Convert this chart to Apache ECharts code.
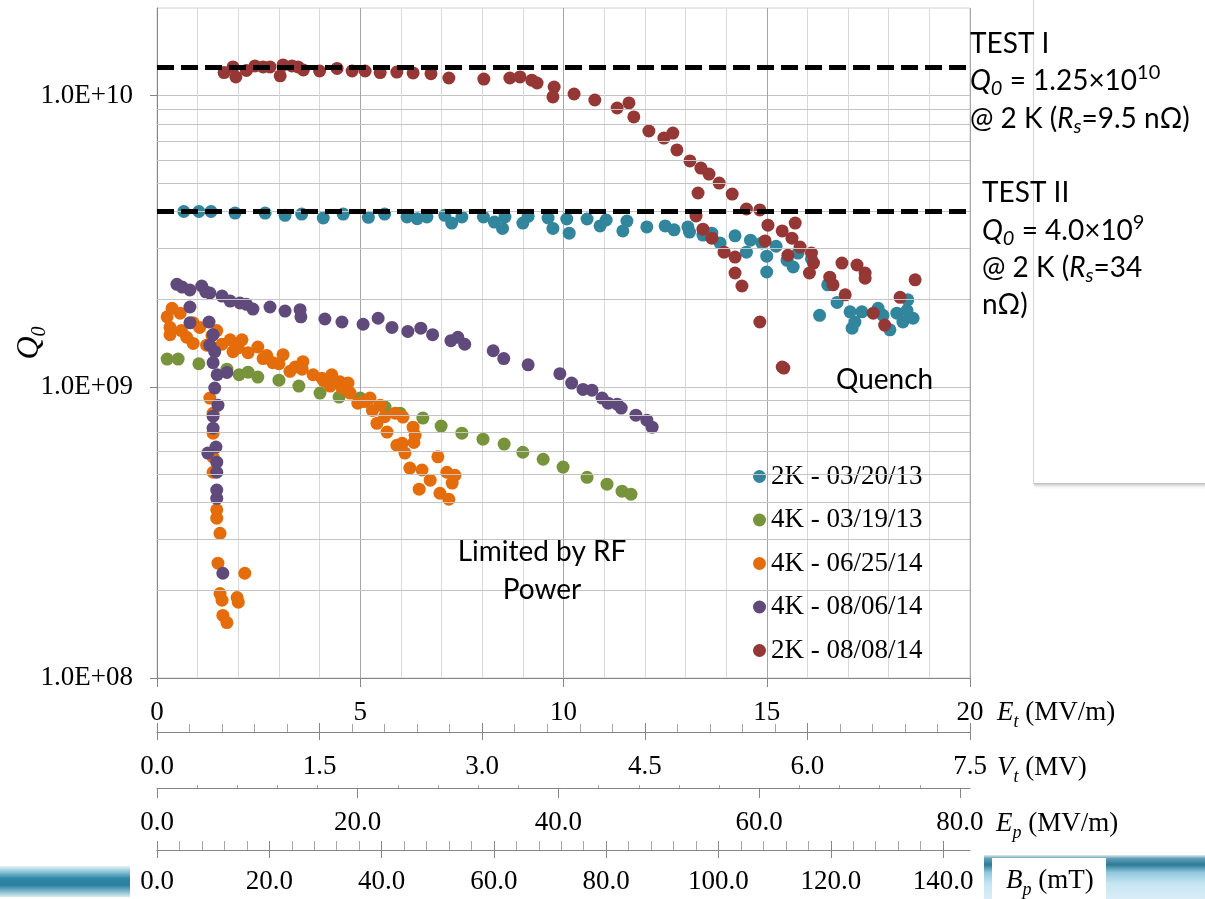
<!DOCTYPE html>
<html>
<head>
<meta charset="utf-8">
<script src="https://cdn.jsdelivr.net/npm/echarts@6/dist/echarts.min.js"></script>
<style>
  html, body { margin: 0; padding: 0; background: #fff; }
  #chart { width: 1205px; height: 899px; }
</style>
</head>
<body>
<div id="chart"></div>
<script>
// series names (legend order)
var seriesNames = ['2K - 03/20/13', '4K - 03/19/13', '4K - 06/25/14', '4K - 08/06/14', '2K - 08/08/14'];

// [Et (MV/m), Q0]
var data2K_032013 = [
  [0.66,4.0e9],[1.03,4.0e9],[1.33,4.0e9],[1.92,3.95e9],[2.66,3.95e9],[3.15,3.88e9],[3.56,3.92e9],[4.09,3.8e9],
  [4.58,3.92e9],[5.2,3.82e9],[5.6,3.92e9],[6.15,3.83e9],[6.4,3.78e9],[6.64,3.83e9],[7.08,3.88e9],[7.25,3.65e9],
  [7.5,3.83e9],[8.03,3.83e9],[8.3,3.68e9],[8.5,3.5e9],[8.56,3.83e9],[9.0,3.65e9],[9.13,3.85e9],[9.62,3.8e9],
  [9.74,3.5e9],[10.08,3.77e9],[10.14,3.37e9],[10.58,3.77e9],[10.9,3.57e9],[11.05,3.74e9],[11.46,3.43e9],[11.56,3.71e9],
  [12.05,3.54e9],[12.5,3.57e9],[12.72,3.46e9],[13.06,3.54e9],[13.1,3.4e9],[13.43,3.32e9],[13.65,3.37e9],[13.85,3.12e9],
  [14.22,3.3e9],[14.5,2.9e9],[14.6,3.19e9],[14.88,3.12e9],[15.0,2.81e9],[15.0,2.48e9],[15.23,3.04e9],[15.5,2.72e9],
  [15.65,2.58e9],[15.77,2.88e9],[16.1,2.75e9],[16.3,1.76e9],[16.5,2.24e9],[16.73,1.95e9],[17.05,1.81e9],[17.1,1.59e9],
  [17.17,1.67e9],[17.34,1.81e9],[17.74,1.86e9],[17.86,1.76e9],[18.03,1.57e9],[18.2,1.79e9],[18.35,1.67e9],[18.47,1.99e9],
  [18.45,1.83e9],[18.6,1.72e9]
];
var data4K_031913 = [
  [0.25,1.245e9],[0.52,1.245e9],[1.03,1.2e9],[1.72,1.15e9],[2.02,1.1e9],[2.24,1.123e9],[2.48,1.08e9],[3.0,1.054e9],
  [3.49,1.006e9],[4.01,9.52e8],[4.48,9.22e8],[5.0,9.15e8],[5.61,8.52e8],[5.98,8.12e8],[6.54,7.81e8],[6.99,7.33e8],
  [7.5,6.93e8],[8.02,6.61e8],[8.54,6.36e8],[9.0,5.96e8],[9.5,5.64e8],[9.99,5.3e8],[10.58,4.89e8],[11.07,4.63e8],
  [11.44,4.38e8],[11.66,4.28e8]
];
var data4K_062514 = [
  [0.25,1.74e9],[0.37,1.86e9],[0.57,1.79e9],[0.32,1.6e9],[0.32,1.51e9],[0.6,1.56e9],[0.73,1.48e9],[0.89,1.66e9],
  [1.05,1.6e9],[0.89,1.41e9],[1.22,1.39e9],[1.35,1.5e9],[1.47,1.56e9],[1.6,1.4e9],[1.8,1.45e9],[2.09,1.45e9],
  [1.87,1.32e9],[2.0,1.36e9],[2.24,1.31e9],[2.48,1.37e9],[2.61,1.25e9],[2.7,1.28e9],[3.1,1.29e9],[2.85,1.21e9],
  [3.0,1.2e9],[3.27,1.13e9],[3.4,1.17e9],[3.59,1.22e9],[3.57,1.15e9],[3.84,1.1e9],[4.06,1.07e9],[4.1,1.05e9],
  [4.3,1.1e9],[4.26,1.006e9],[4.5,1.04e9],[4.55,9.9e8],[4.7,1.03e9],[4.75,9.52e8],[4.94,8.79e8],[5.1,8.9e8],
  [5.24,9.15e8],[5.3,8.3e8],[5.49,8.65e8],[5.41,7.49e8],[5.6,7.9e8],[5.66,6.99e8],[5.86,8.12e8],[5.9,6.3e8],
  [6.05,7.87e8],[6.03,6.4e8],[6.1,5.92e8],[6.3,7.27e8],[6.35,6.82e8],[6.32,6.44e8],[6.22,5.26e8],[6.52,5.18e8],
  [6.45,4.45e8],[6.72,4.78e8],[6.91,5.75e8],[7.13,5.09e8],[7.33,4.97e8],[7.26,4.67e8],[6.96,4.31e8],[7.18,4.11e8],
  [1.3,9.15e8],[1.38,8.12e8],[1.38,6.93e8],[1.38,5.73e8],[1.38,5.09e8],[1.47,3.78e8],[1.47,3.54e8],[1.55,3.14e8],
  [1.5,2.48e8],[1.55,1.95e8],[1.6,1.85e8],[1.62,1.64e8],[1.72,1.55e8],[1.97,1.89e8],[2.0,1.82e8],[2.16,2.29e8]
];
var data4K_080614 = [
  [0.49,2.25e9],[0.62,2.2e9],[0.81,2.15e9],[0.81,1.88e9],[0.81,1.66e9],[1.1,2.22e9],[1.2,2.12e9],[1.3,2.1e9],
  [1.28,1.67e9],[1.6,2.05e9],[1.8,1.97e9],[2.04,1.94e9],[2.2,1.92e9],[2.36,1.85e9],[2.78,1.88e9],[3.15,1.82e9],
  [3.52,1.84e9],[3.54,1.74e9],[4.13,1.71e9],[4.55,1.67e9],[5.07,1.64e9],[5.44,1.72e9],[5.78,1.6e9],[6.17,1.55e9],
  [6.49,1.59e9],[6.78,1.51e9],[7.23,1.44e9],[7.4,1.48e9],[7.57,1.4e9],[8.27,1.33e9],[8.53,1.25e9],[9.13,1.19e9],
  [9.91,1.11e9],[10.2,1.03e9],[10.48,9.8e8],[10.7,9.74e8],[10.95,9.15e8],[11.1,8.79e8],[11.32,8.72e8],[11.42,8.45e8],
  [11.78,7.99e8],[12.05,7.68e8],[12.18,7.27e8],
  [1.38,1.51e9],[1.3,1.39e9],[1.42,1.32e9],[1.38,1.21e9],[1.48,1.1e9],[1.72,1.12e9],[1.42,9.9e8],[1.5,8.65e8],
  [1.38,7.93e8],[1.38,7.21e8],[1.45,6.21e8],[1.25,5.92e8],[1.47,5.51e8],[1.47,5.09e8],[1.47,4.42e8],[1.47,4.14e8],
  [1.62,2.29e8]
];
var data2K_080814 = [
  [1.65,1.2e10],[1.87,1.255e10],[1.94,1.16e10],[2.2,1.22e10],[2.41,1.265e10],[2.61,1.255e10],[2.78,1.255e10],[3.03,1.17e10],
  [3.1,1.275e10],[3.32,1.265e10],[3.47,1.255e10],[3.6,1.225e10],[4.0,1.215e10],[4.43,1.24e10],[4.8,1.215e10],[5.12,1.215e10],
  [5.49,1.2e10],[5.9,1.205e10],[6.3,1.197e10],[6.74,1.19e10],[7.18,1.15e10],[8.04,1.14e10],[8.68,1.15e10],[8.93,1.16e10],
  [9.22,1.13e10],[9.35,1.105e10],[9.77,1.07e10],[9.74,9.9e9],[10.26,1.013e10],[10.77,9.66e9],[11.32,9.07e9],[11.61,9.44e9],
  [11.73,8.45e9],[12.1,7.56e9],[12.47,7.15e9],[12.69,7.44e9],[12.79,6.51e9],[13.11,5.97e9],[13.38,5.64e9],[13.58,5.38e9],
  [13.31,4.63e9],[13.83,5.01e9],[14.15,4.59e9],[13.26,3.86e9],[13.43,3.48e9],[13.65,3.24e9],[13.95,2.9e9],[14.22,2.79e9],
  [14.22,2.46e9],[14.39,2.22e9],[14.5,4.08e9],[14.83,4.05e9],[15.03,3.59e9],[14.96,3.17e9],[15.38,3.43e9],[15.62,3.24e9],
  [15.52,2.83e9],[15.7,3.65e9],[15.82,3.02e9],[14.83,1.67e9],[15.42,1.16e9],[15.38,1.17e9],[16.1,2.88e9],[16.15,2.66e9],
  [16.05,2.46e9],[16.55,2.38e9],[16.63,2.24e9],[16.85,2.66e9],[16.93,2.07e9],[17.22,2.62e9],[17.42,2.46e9],[17.42,2.36e9],
  [17.62,1.79e9],[17.9,1.63e9],[18.28,2.03e9],[18.65,2.33e9]
];

// reference lines (TEST I, TEST II)
var testLevels = [1.25e10, 4.0e9];

// tick values
var yDecades = [1e8, 1e9, 1e10];
var yMinorGrid = [2e8,3e8,4e8,5e8,6e8,7e8,8e8,9e8,2e9,3e9,4e9,5e9,6e9,7e9,8e9,9e9];
var epMajor = [0, 20, 40, 60, 80];
var epMinor = [4,8,12,16,24,28,32,36,44,48,52,56,64,68,72,76];
var bpMajor = [0, 20, 40, 60, 80, 100, 120, 140];
var bpMinor = [4,8,12,16,24,28,32,36,44,48,52,56,64,68,72,76,84,88,92,96,104,108,112,116,124,128,132,136];

var colors = ['#31859C', '#77933C', '#E46C0A', '#604A7B', '#953735'];
var allData = [data2K_032013, data4K_031913, data4K_062514, data4K_080614, data2K_080814];

var serif = '"Liberation Serif", "Times New Roman", serif';
var sans = 'Lato, "Open Sans", sans-serif';
var axisGray = '#868686';

var chart = echarts.init(document.getElementById('chart'));

var labelFont = { fontFamily: serif, fontSize: 27, color: '#000' };

function ruler(opt) {
    return Object.assign({
        type: 'value',
        gridIndex: 0,
        position: 'bottom',
        axisLine: { show: false, onZero: false, lineStyle: { color: axisGray, width: 1 } },
        axisTick: { show: false },
        axisLabel: { show: false },
        splitLine: { show: false },
        minorTick: { show: false },
        minorSplitLine: { show: false }
    }, opt);
}

var xAxes = [
    // E_t : main plot axis
    {
        type: 'value', min: 0, max: 20, interval: 5, position: 'bottom',
        axisLine: { show: true, onZero: false, lineStyle: { color: axisGray } },
        axisTick: { show: true, inside: false, length: 9, lineStyle: { color: axisGray } },
        axisLabel: Object.assign({ margin: 21 }, labelFont),
        splitLine: { show: true, lineStyle: { color: '#a6a6a6', width: 1 } },
        minorTick: { show: false, splitNumber: 5 },
        minorSplitLine: { show: true, lineStyle: { color: '#d9d9d9', width: 1 } }
    },
    // V_t
    ruler({
        min: 0, max: 7.5, interval: 1.5, offset: 54,
        axisLine: { show: true, onZero: false, lineStyle: { color: axisGray } },
        axisTick: { show: true, inside: true, length: 9, lineStyle: { color: axisGray } },
        minorTick: { show: true, splitNumber: 5, length: 8, lineStyle: { color: '#a6a6a6' } },
        axisLabel: Object.assign({ show: true, margin: 21, formatter: function (v) { return v.toFixed(1); } }, labelFont)
    }),
    ruler({
        min: 0, max: 7.5, interval: 1.5, offset: 54,
        axisTick: { show: true, inside: false, length: 8, lineStyle: { color: axisGray } }
    }),
    // E_p
    ruler({
        min: 0, max: 81, offset: 110,
        axisLine: { show: true, onZero: false, lineStyle: { color: axisGray } },
        axisTick: { show: true, inside: false, length: 10, customValues: epMajor, lineStyle: { color: axisGray } },
        axisLabel: Object.assign({ show: true, margin: 21, customValues: epMajor, formatter: function (v) { return v.toFixed(1); } }, labelFont)
    }),
    ruler({
        min: 0, max: 81, offset: 110,
        axisTick: { show: true, inside: true, length: 3, customValues: epMinor, lineStyle: { color: '#a6a6a6' } }
    }),
    // B_p
    ruler({
        min: 0, max: 144.8, offset: 172,
        axisLine: { show: true, onZero: false, lineStyle: { color: axisGray } },
        axisTick: { show: true, inside: true, length: 9, customValues: bpMajor, lineStyle: { color: axisGray } },
        axisLabel: Object.assign({ show: true, margin: 18, customValues: bpMajor, formatter: function (v) { return v.toFixed(1); } }, labelFont)
    }),
    ruler({
        min: 0, max: 144.8, offset: 172,
        axisTick: { show: true, inside: false, length: 8, customValues: bpMajor, lineStyle: { color: axisGray } }
    }),
    ruler({
        min: 0, max: 144.8, offset: 172,
        axisTick: { show: true, inside: true, length: 9, customValues: bpMinor, lineStyle: { color: '#a6a6a6' } }
    })
];

var series = [];

// minor horizontal grid lines (2..9 x 10^n)
series.push({
    type: 'line', data: [], z: 1, silent: true,
    markLine: {
        silent: true, animation: false, symbol: ['none', 'none'],
        label: { show: false },
        lineStyle: { color: '#c4c4c4', width: 1, type: 'solid' },
        emphasis: { disabled: true },
        data: yMinorGrid.map(function (v) { return { yAxis: v }; })
    }
});

seriesNames.forEach(function (name, i) {
    series.push({
        name: name,
        type: 'scatter',
        symbol: 'circle',
        symbolSize: 13,
        z: 2 + i * 0.1,
        itemStyle: { color: colors[i], opacity: 1 },
        data: allData[i]
    });
});

// dashed TEST levels
series.push({
    type: 'line', data: [], z: 5, silent: true,
    markLine: {
        silent: true, animation: false, symbol: ['none', 'none'],
        label: { show: false },
        lineStyle: { color: '#000', width: 5, type: [17, 7] },
        emphasis: { disabled: true },
        data: testLevels.map(function (v) { return { yAxis: v }; })
    }
});

var mRich = {
    m: { fontFamily: sans, fontSize: 28, lineHeight: 36, fill: '#000' },
    i: { fontFamily: sans, fontSize: 28, lineHeight: 36, fontStyle: 'italic', fill: '#000' },
    sub: { fontFamily: sans, fontSize: 20, lineHeight: 20, fontStyle: 'italic', verticalAlign: 'bottom', fill: '#000' },
    sup: { fontFamily: sans, fontSize: 20, lineHeight: 20, verticalAlign: 'top', fill: '#000' }
};
var sRich = {
    m: { fontFamily: serif, fontSize: 27, lineHeight: 36, fill: '#000' },
    i: { fontFamily: serif, fontSize: 27, lineHeight: 36, fontStyle: 'italic', fill: '#000' },
    sub: { fontFamily: serif, fontSize: 18, lineHeight: 18, fontStyle: 'italic', verticalAlign: 'bottom', fill: '#000' }
};

function note(x, y, text, rich, align) {
    return {
        type: 'text', x: x, y: y, z: 20,
        style: { text: text, rich: rich, align: align || 'left', verticalAlign: 'middle' }
    };
}

var graphics = [
    // side panel edge and shadow
    { type: 'line', z: 1, shape: { x1: 1033.5, y1: 0, x2: 1033.5, y2: 484 }, style: { stroke: '#d6d6d6', lineWidth: 1 } },
    { type: 'rect', z: 1, shape: { x: 1034, y: 483, width: 171, height: 7 },
      style: { fill: new echarts.graphic.LinearGradient(0, 0, 0, 1, [
          { offset: 0, color: '#b8b8b8' }, { offset: 1, color: 'rgba(255,255,255,0)' }]) } },
    // slide stripes
    { type: 'rect', z: 1, shape: { x: 0, y: 866, width: 130, height: 31 },
      style: { fill: new echarts.graphic.LinearGradient(0, 0, 0, 1, [
          { offset: 0, color: '#e6f2f6' }, { offset: 0.2, color: '#86c0d5' }, { offset: 0.4, color: '#2f86a6' },
          { offset: 0.62, color: '#2b7f9f' }, { offset: 0.82, color: '#80bbd0' }, { offset: 1, color: '#dde9ee' }]) } },
    { type: 'rect', z: 1, shape: { x: 984, y: 855, width: 221, height: 44 },
      style: { fill: new echarts.graphic.LinearGradient(0, 0, 0, 1, [
          { offset: 0, color: '#dfeaef' }, { offset: 0.08, color: '#5f9fb8' }, { offset: 0.22, color: '#2c7b98' },
          { offset: 0.4, color: '#93c8dd' }, { offset: 0.65, color: '#c6e5f2' }, { offset: 1, color: '#d9eef8' }]) } },
    { type: 'rect', z: 2, shape: { x: 992, y: 858, width: 114, height: 41 }, style: { fill: '#fff' } },

    // y axis name
    { type: 'text', x: 30, y: 343, rotation: Math.PI / 2, z: 20,
      style: { text: '{q|Q}{s|0}', align: 'center', verticalAlign: 'middle',
        rich: {
            q: { fontFamily: serif, fontSize: 32, lineHeight: 40, fontStyle: 'italic', fill: '#000' },
            s: { fontFamily: serif, fontSize: 20, lineHeight: 20, fontStyle: 'italic', verticalAlign: 'bottom', fill: '#000' }
        } } },

    // axis names
    note(997, 713, '{i|E}{sub|t}{m| (MV/m)}', sRich),
    note(997, 768, '{i|V}{sub|t}{m| (MV)}', sRich),
    note(996, 824, '{i|E}{sub|p}{m| (MV/m)}', sRich),
    note(1006, 881, '{i|B}{sub|p}{m| (mT)}', sRich),

    // annotations
    note(970, 44, '{m|TEST I}', mRich),
    note(970, 81, '{i|Q}{sub|0}{m| = 1.25×10}{sup|10}', mRich),
    note(970, 119, '{m|@ 2 K (}{i|R}{sub|s}{m|=9.5 nΩ)}', mRich),
    note(982, 193, '{m|TEST II}', mRich),
    note(982, 231, '{i|Q}{sub|0}{m| = 4.0×10}{sup|9}', mRich),
    note(982, 268, '{m|@ 2 K (}{i|R}{sub|s}{m|=34}', mRich),
    note(982, 305, '{m|nΩ)}', mRich),
    note(836, 380, '{m|Quench}', mRich),
    note(542, 552, '{m|Limited by RF}', mRich, 'center'),
    note(542, 590, '{m|Power}', mRich, 'center')
];

var option = {
    animation: false,
    backgroundColor: '#fff',
    grid: {
        left: 157, right: 235, top: 8, bottom: 221,
        containLabel: false, outerBoundsMode: 'none',
        show: true, borderColor: '#d0d0d0', borderWidth: 1, backgroundColor: 'transparent'
    },
    legend: {
        data: seriesNames,
        orient: 'vertical',
        left: 748, top: 458,
        padding: 5,
        icon: 'circle',
        itemWidth: 13, itemHeight: 13,
        itemGap: 16.5,
        selectedMode: false,
        textStyle: { fontFamily: serif, fontSize: 27, color: '#000', lineHeight: 26 }
    },
    xAxis: xAxes,
    yAxis: {
        type: 'log', logBase: 10, min: 1e8, max: 2e10,
        axisLine: { show: true, lineStyle: { color: axisGray } },
        axisTick: { show: true, inside: false, length: 7, customValues: yDecades, lineStyle: { color: axisGray } },
        axisLabel: Object.assign({
            margin: 24, customValues: yDecades,
            formatter: function (v) {
                var e = Math.log10(v);
                if (Math.abs(e - Math.round(e)) > 1e-6) return '';
                e = Math.round(e);
                return '1.0E+' + (e < 10 ? '0' : '') + e;
            }
        }, labelFont),
        splitLine: { show: true, lineStyle: { color: '#c4c4c4', width: 1 } }
    },
    series: series,
    graphic: graphics
};

chart.setOption(option);
</script>
</body>
</html>
